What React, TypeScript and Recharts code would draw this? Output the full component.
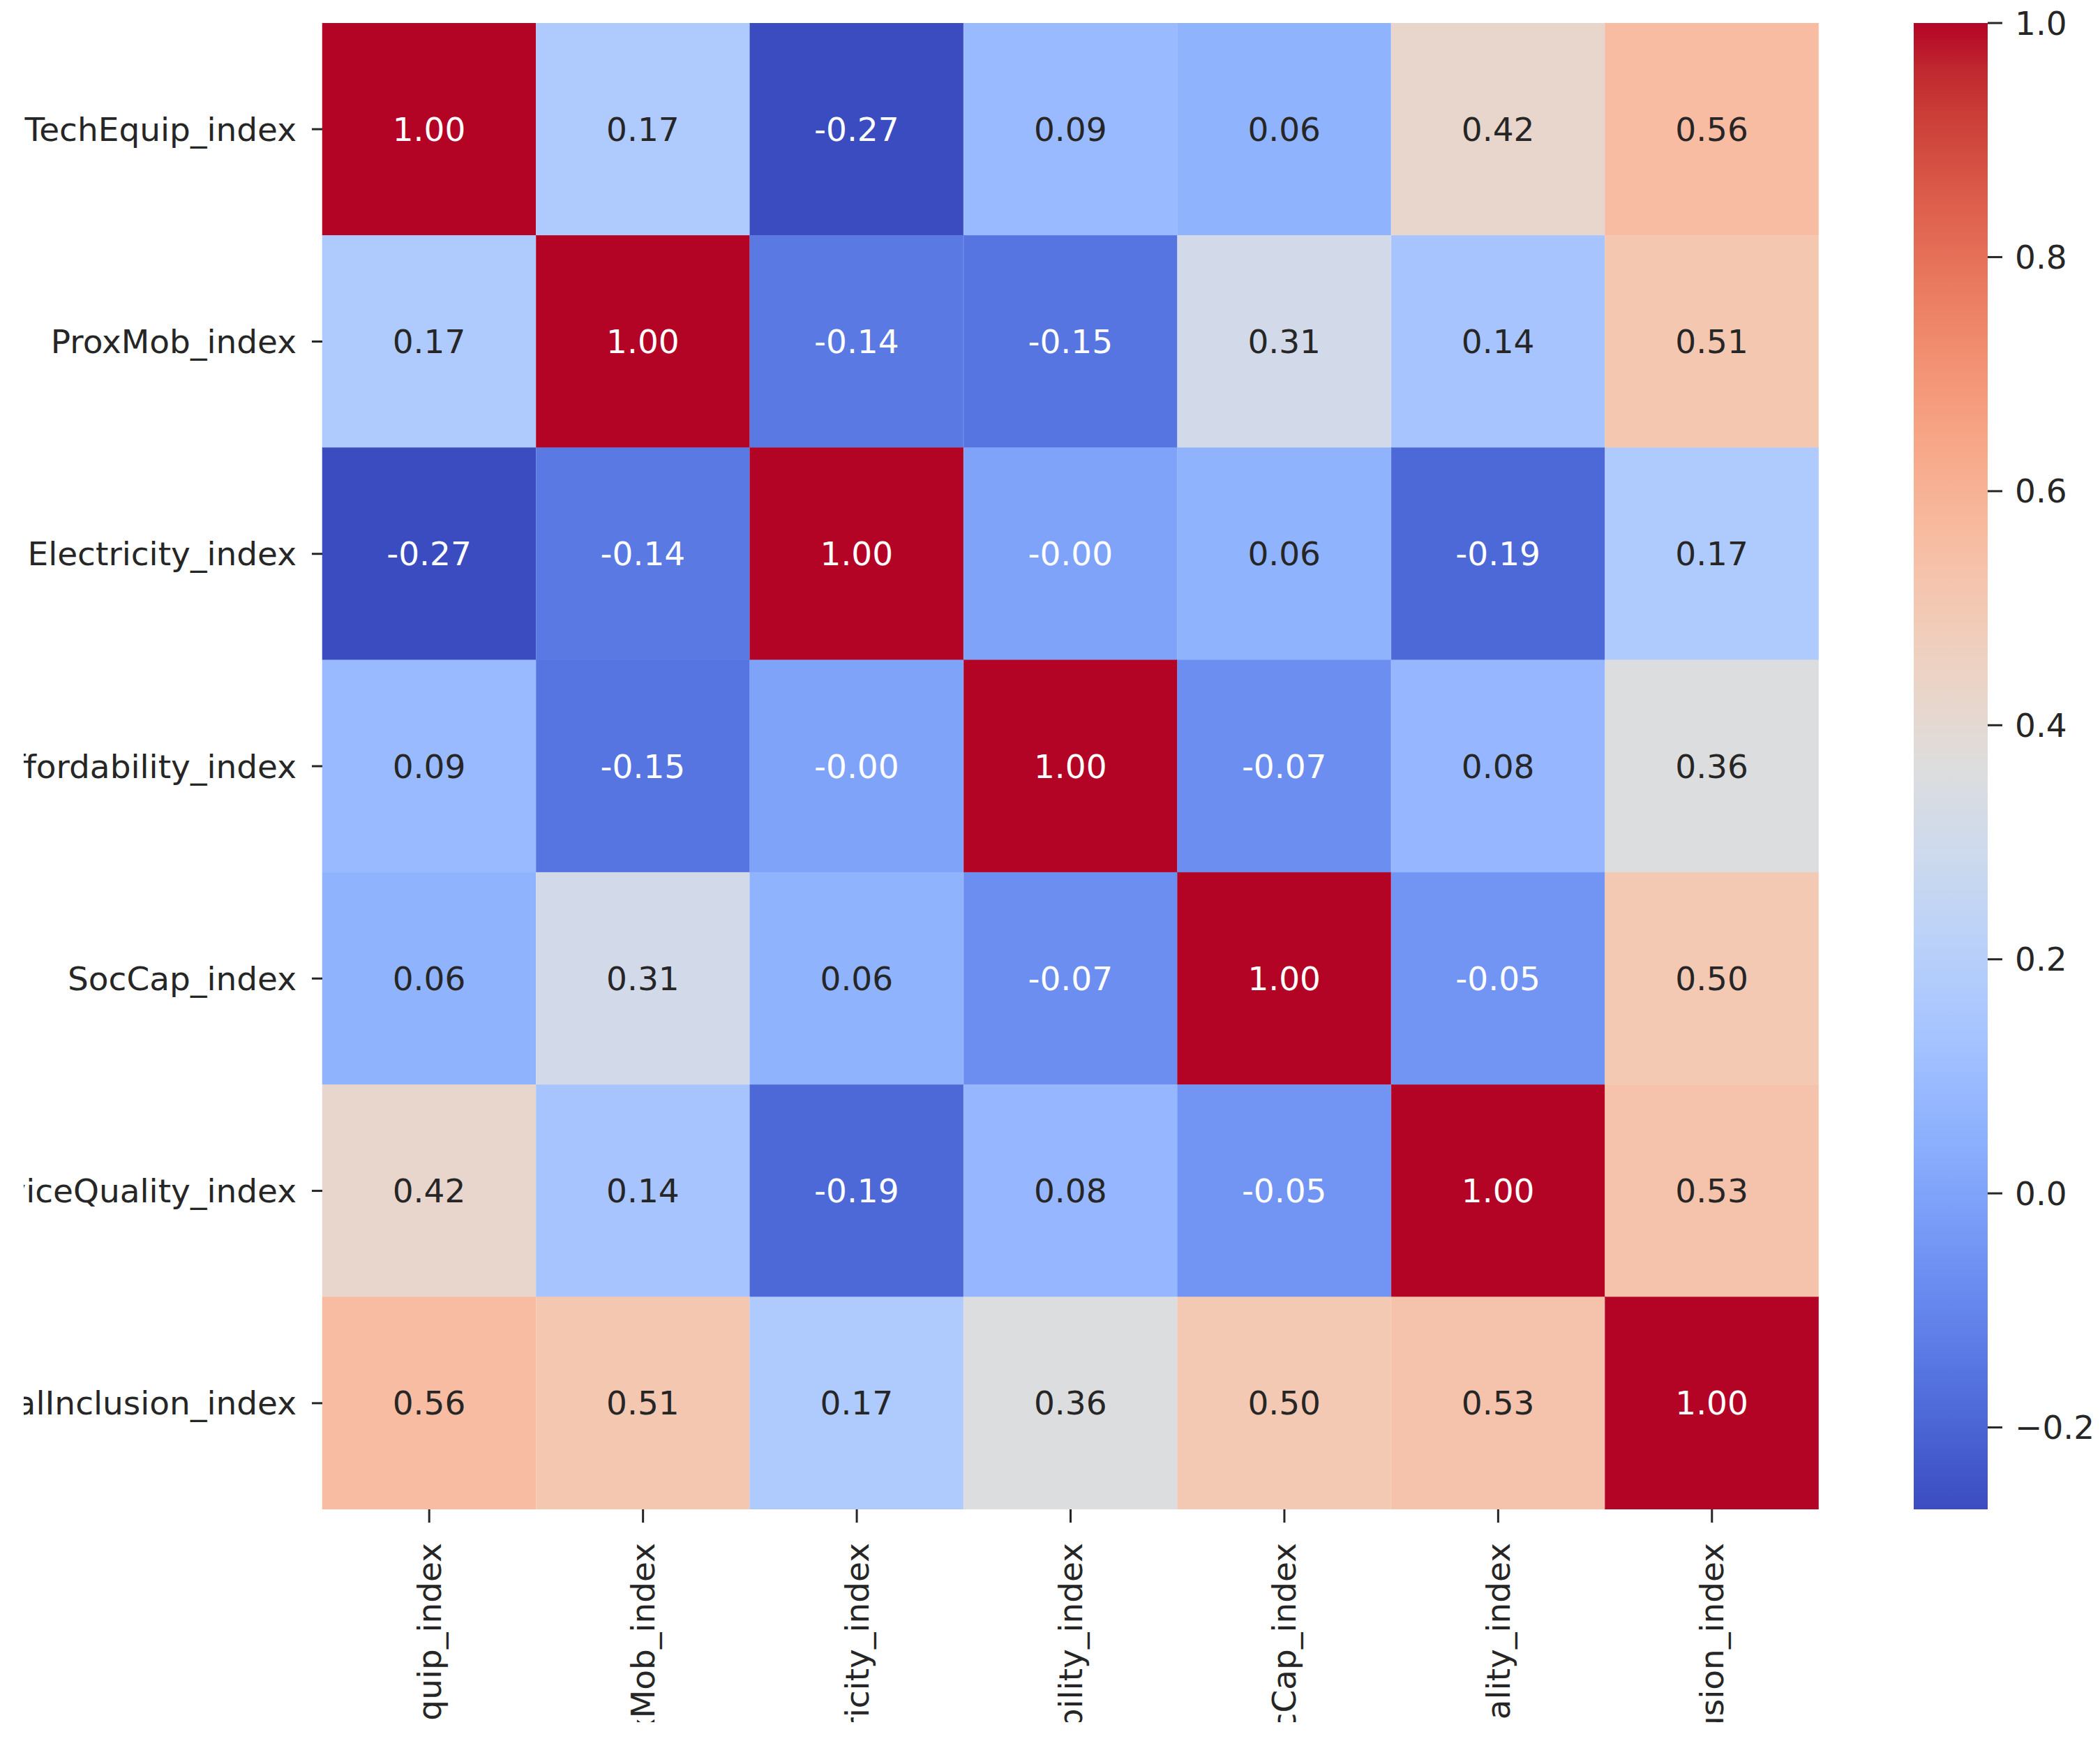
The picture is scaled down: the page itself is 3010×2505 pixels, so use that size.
import React from 'react';
import { BarChart, Bar, XAxis, YAxis } from 'recharts';

// ---- data ----
const LABELS = [
  'TechEquip_index',
  'ProxMob_index',
  'Electricity_index',
  'Affordability_index',
  'SocCap_index',
  'ServiceQuality_index',
  'DigitalInclusion_index',
];

const techEquip = [1.0, 0.17, -0.27, 0.09, 0.06, 0.42, 0.56];
const proxMob = [0.17, 1.0, -0.14, -0.15, 0.31, 0.14, 0.51];
const electricity = [-0.27, -0.14, 1.0, -0.001, 0.06, -0.19, 0.17];
const affordability = [0.09, -0.15, -0.001, 1.0, -0.07, 0.08, 0.36];
const socCap = [0.06, 0.31, 0.06, -0.07, 1.0, -0.05, 0.5];
const serviceQuality = [0.42, 0.14, -0.19, 0.08, -0.05, 1.0, 0.53];
const digitalInclusion = [0.56, 0.51, 0.17, 0.36, 0.5, 0.53, 1.0];

const MATRIX = [techEquip, proxMob, electricity, affordability, socCap, serviceQuality, digitalInclusion];

const CB_TICKS = [-0.2, 0.0, 0.2, 0.4, 0.6, 0.8, 1.0];

const VMIN = Math.min(...MATRIX.flat());
const VMAX = Math.max(...MATRIX.flat());

// coolwarm colormap anchors
const COOLWARM: number[][] = [
  [59, 76, 192], [68, 90, 204], [77, 104, 215], [87, 117, 225], [98, 130, 234],
  [108, 142, 241], [119, 154, 247], [130, 165, 251], [141, 176, 254], [152, 185, 255],
  [163, 194, 255], [174, 201, 253], [184, 208, 249], [194, 213, 244], [204, 217, 238],
  [213, 219, 230], [221, 221, 221], [229, 216, 209], [236, 211, 197], [241, 204, 185],
  [245, 196, 173], [247, 187, 160], [247, 177, 148], [247, 166, 135], [244, 154, 123],
  [241, 141, 111], [236, 127, 99], [229, 112, 88], [222, 96, 77], [213, 80, 66],
  [203, 62, 56], [192, 40, 47], [180, 4, 38],
];

function cmapRGB(t: number): number[] {
  const tt = Math.max(0, Math.min(1, t)) * (COOLWARM.length - 1);
  const i = Math.min(COOLWARM.length - 2, Math.floor(tt));
  const f = tt - i;
  const a = COOLWARM[i];
  const b = COOLWARM[i + 1];
  return [0, 1, 2].map((k) => a[k] + (b[k] - a[k]) * f);
}
function rgbStr(c: number[]) {
  return `rgb(${Math.round(c[0])},${Math.round(c[1])},${Math.round(c[2])})`;
}
function valueRGB(v: number) {
  return cmapRGB((v - VMIN) / (VMAX - VMIN));
}
function luminance(c: number[]) {
  const lin = c.map((x) => {
    const s = x / 255;
    return s <= 0.03928 ? s / 12.92 : Math.pow((s + 0.055) / 1.055, 2.4);
  });
  return 0.2126 * lin[0] + 0.7152 * lin[1] + 0.0722 * lin[2];
}

const tableData = LABELS.map((name) => {
  const row: any = { name };
  MATRIX.forEach((_, i) => {
    row[`r${i}`] = 1;
  });
  return row;
});

const cbData = [{ name: 'cb', range: [VMIN, VMAX] }];

const FONT = 'DejaVu Sans';
const FS = 47;
const TXT = '#262626';

// the reference is a cropped picture: its labels are cut at these edges
const CLIP_LEFT = 34;
const CLIP_BOTTOM = 2468;

const YTick = (props: any) => {
  const { x, y, payload } = props;
  return (
    <text x={x} y={y} textAnchor="end" dominantBaseline="central" fontFamily={FONT} fontSize={FS} fill={TXT}>
      {LABELS[Math.floor(payload.value)]}
    </text>
  );
};

const XTick = (props: any) => {
  const { x, y, payload } = props;
  return (
    <text
      x={x}
      y={y}
      transform={`rotate(-90 ${x} ${y})`}
      textAnchor="end"
      dominantBaseline="central"
      fontFamily={FONT}
      fontSize={FS}
      fill={TXT}
    >
      {payload.value}
    </text>
  );
};

const CbTick = (props: any) => {
  const { x, y, payload } = props;
  const v = payload.value as number;
  const s = v < -1e-9 ? '\u2212' + Math.abs(v).toFixed(1) : Math.abs(v).toFixed(1);
  return (
    <text x={x} y={y} textAnchor="start" dominantBaseline="central" fontFamily={FONT} fontSize={FS} fill={TXT}>
      {s}
    </text>
  );
};

const makeCell = (rowIdx: number) => (p: any) => {
  const { x, y, width, height, index } = p;
  const v = MATRIX[rowIdx][index];
  const c = valueRGB(v);
  const x0 = Math.min(x, x + width);
  const y0 = Math.min(y, y + height);
  const w = Math.abs(width);
  const h = Math.abs(height);
  const textColor = luminance(c) > 0.408 ? TXT : '#ffffff';
  return (
    <g>
      <rect x={x0} y={y0} width={w} height={h} fill={rgbStr(c)} stroke={rgbStr(c)} strokeWidth={0.5} />
      <text
        x={x0 + w / 2}
        y={y0 + h / 2}
        textAnchor="middle"
        dominantBaseline="central"
        fontFamily={FONT}
        fontSize={FS}
        fill={textColor}
      >
        {v.toFixed(2)}
      </text>
    </g>
  );
};

export default function App() {
  const tickLine = { stroke: TXT, strokeWidth: 3 };
  return (
    <div style={{ position: 'absolute', left: 0, top: 0, width: 3010, height: 2505, overflow: 'hidden', background: '#fff' }}>
      <div
        style={{
          position: 'absolute',
          left: CLIP_LEFT,
          top: 0,
          width: 3010 - CLIP_LEFT,
          height: CLIP_BOTTOM,
          overflow: 'hidden',
        }}
      >
        <div style={{ position: 'absolute', left: -CLIP_LEFT, top: 0 }}>
          <BarChart
            width={3010}
            height={2505}
            data={tableData}
            margin={{ top: 33, right: 403, bottom: 0, left: 0 }}
            barCategoryGap={0}
            barGap={0}
          >
            <XAxis
              dataKey="name"
              type="category"
              height={342}
              interval={0}
              axisLine={false}
              tickLine={tickLine}
              tickSize={19}
              tickMargin={29}
              tick={<XTick />}
            />
            <YAxis
              type="number"
              domain={[0, 7]}
              reversed
              ticks={[0.5, 1.5, 2.5, 3.5, 4.5, 5.5, 6.5]}
              width={462}
              interval={0}
              axisLine={false}
              tickLine={tickLine}
              tickSize={15}
              tickMargin={22}
              tick={<YTick />}
              allowDataOverflow
            />
            {MATRIX.map((_, i) => (
              <Bar key={i} dataKey={`r${i}`} stackId="a" isAnimationActive={false} shape={makeCell(i)} />
            ))}
          </BarChart>
        </div>
      </div>
      <div style={{ position: 'absolute', left: 2743, top: 0 }}>
        <BarChart
          width={267}
          height={2505}
          data={cbData}
          margin={{ top: 33, right: 0, bottom: 342, left: 0 }}
          barCategoryGap={0}
        >
          <defs>
            <linearGradient id="cbGrad" x1="0" y1="0" x2="0" y2="1">
              {COOLWARM.map((_, k) => (
                <stop key={k} offset={k / (COOLWARM.length - 1)} stopColor={rgbStr(COOLWARM[COOLWARM.length - 1 - k])} />
              ))}
            </linearGradient>
          </defs>
          <XAxis dataKey="name" hide />
          <YAxis
            orientation="right"
            type="number"
            domain={[VMIN, VMAX]}
            ticks={CB_TICKS}
            width={161}
            interval={0}
            axisLine={false}
            tickLine={tickLine}
            tickSize={21}
            tickMargin={18}
            tick={<CbTick />}
            allowDataOverflow
          />
          <Bar dataKey="range" fill="url(#cbGrad)" isAnimationActive={false} />
        </BarChart>
      </div>
    </div>
  );
}
